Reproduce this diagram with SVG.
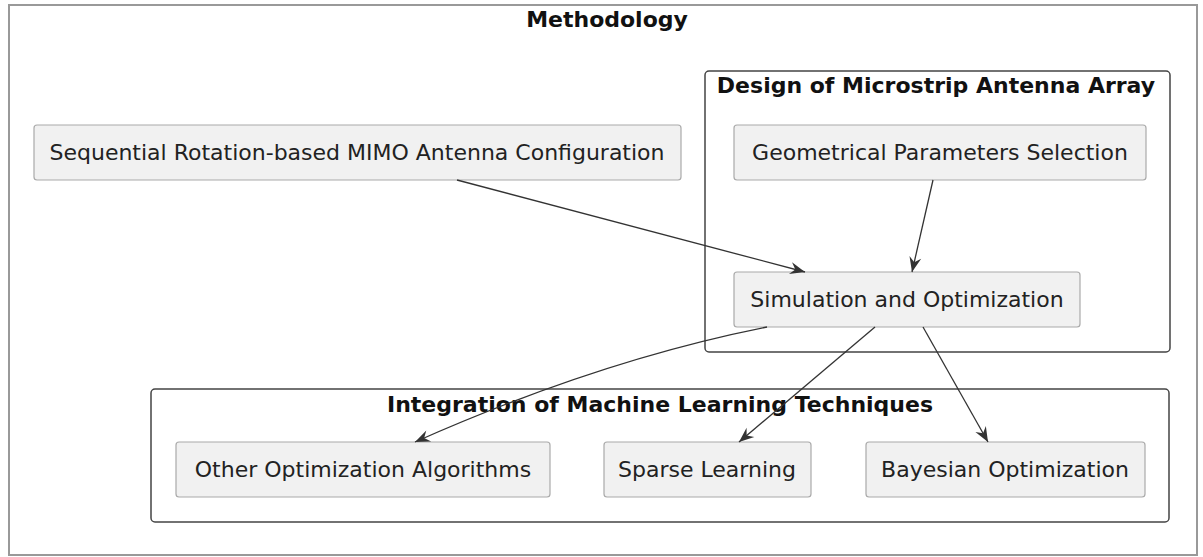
<svg xmlns="http://www.w3.org/2000/svg" width="1203" height="557" viewBox="0 0 1203 557">
<style>
.frame{fill:none;stroke:#444;stroke-width:1.5}
.outer{fill:#fff;stroke:#999;stroke-width:2}
.box{fill:#f1f1f1;stroke:#aaa;stroke-width:1.2}
.lbl{font-family:"DejaVu Sans",sans-serif;font-size:22px;fill:#222;text-anchor:middle}
.ttl{font-family:"DejaVu Sans",sans-serif;font-size:22px;font-weight:bold;fill:#111;text-anchor:middle}
.edge{fill:none;stroke:#333;stroke-width:1.3;marker-end:url(#arr)}
</style>
<defs>
<marker id="arr" markerUnits="userSpaceOnUse" markerWidth="20" markerHeight="16" viewBox="-16 -8 18 16" refX="0" refY="0" orient="auto">
<path d="M0,0 L-15,-6 L-10,0 L-15,6 Z" fill="#333"/>
</marker>
</defs>
<rect width="1203" height="557" fill="#fff"/>
<g id="methodology">
<rect class="outer" x="9" y="5" width="1188" height="550"/>
<text class="ttl" x="607" y="27">Methodology</text>
</g>
<g id="design">
<rect class="frame" x="705" y="71" width="465" height="281" rx="4"/>
<text class="ttl" x="936" y="93">Design of Microstrip Antenna Array</text>
</g>
<g id="integration">
<rect class="frame" x="151" y="389" width="1018" height="133" rx="4"/>
<text class="ttl" x="660" y="412">Integration of Machine Learning Techniques</text>
</g>
<g id="sequential">
<rect class="box" x="34" y="125" width="647" height="55" rx="3"/>
<text class="lbl" x="357" y="160">Sequential Rotation-based MIMO Antenna Configuration</text>
</g>
<g id="geometrical">
<rect class="box" x="734" y="125" width="412" height="55" rx="3"/>
<text class="lbl" x="940" y="160">Geometrical Parameters Selection</text>
</g>
<g id="simulation">
<rect class="box" x="734" y="272" width="346" height="55" rx="3"/>
<text class="lbl" x="907" y="307">Simulation and Optimization</text>
</g>
<g id="other">
<rect class="box" x="176" y="442" width="374" height="55" rx="3"/>
<text class="lbl" x="363" y="477">Other Optimization Algorithms</text>
</g>
<g id="sparse">
<rect class="box" x="604" y="442" width="207" height="55" rx="3"/>
<text class="lbl" x="707" y="477">Sparse Learning</text>
</g>
<g id="bayesian">
<rect class="box" x="866" y="442" width="279" height="55" rx="3"/>
<text class="lbl" x="1005" y="477">Bayesian Optimization</text>
</g>
<g id="connectors">
<path class="edge" d="M457,180 L805,272"/>
<path class="edge" d="M933,180 L912,272"/>
<path class="edge" d="M767,327 Q600,360 415,442"/>
<path class="edge" d="M875,327 L739,442"/>
<path class="edge" d="M923,327 L988,442"/>
</g>
</svg>
